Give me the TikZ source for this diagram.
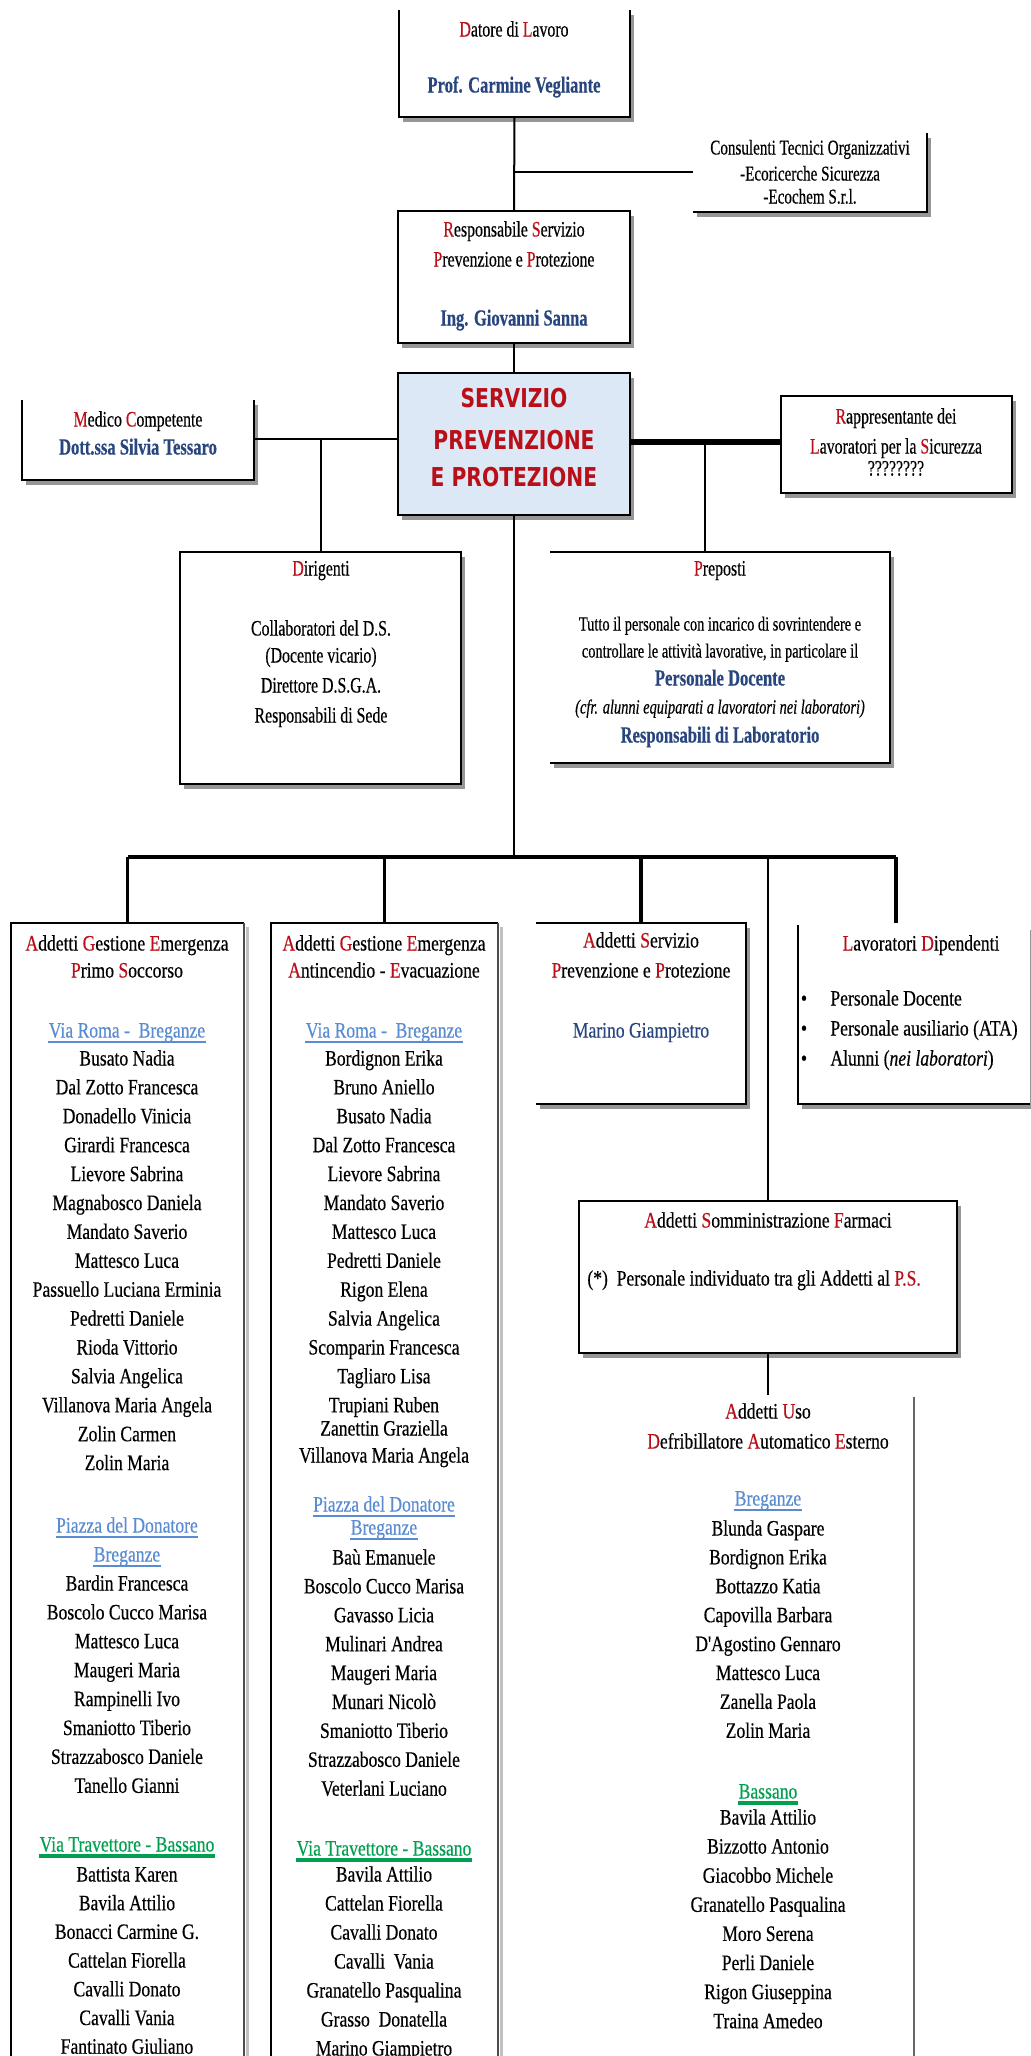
\documentclass[tikz,border=0pt]{standalone}
\usepackage{fontspec}
\setmainfont{Liberation Serif}
\newfontfamily\topf[FakeStretch=0.72,FakeBold=0.4]{Liberation Serif}
\newfontfamily\listf[FakeStretch=0.8,FakeBold=0.4]{Liberation Serif}
\newfontfamily\sppf[FakeStretch=0.78]{DejaVu Sans}
\usetikzlibrary{fit}
\definecolor{rd}{RGB}{185,15,25}
\definecolor{bl}{RGB}{40,70,125}
\definecolor{lb}{RGB}{90,140,210}
\definecolor{gr}{RGB}{0,160,80}
\definecolor{sppfill}{RGB}{221,232,246}
\definecolor{shc}{RGB}{150,150,150}
\newcommand\rl[1]{\textcolor{rd}{#1}}
\newcommand\shadbox[2]{%
  \fill[shc] ([shift={(4,5)}]#1.north west) rectangle ([shift={(4,5)}]#1.south east);
  \fill[#2] (#1.north west) rectangle (#1.south east);}
\begin{document}
\begin{tikzpicture}[x=0.5pt,y=-0.5pt,
  reg/.style={inner sep=0pt, outer sep=0pt},
  bd/.style={line width=1pt, black},
  conn/.style={line width=1pt, black},
  tt/.style={inner sep=0pt, font=\topf\fontsize{11}{13}\selectfont, text height=7.5pt, text depth=2pt},
  nm/.style={inner sep=0pt, font=\listf\fontsize{11}{13}\selectfont, text height=7.5pt, text depth=2pt},
  blu/.style={text=bl, font=\topf\bfseries\fontsize{11.5}{13}\selectfont},
  sppt/.style={inner sep=0pt, text=rd, font=\sppf\bfseries\fontsize{13}{15}\selectfont, text height=9pt, text depth=0pt},
  locb/.style={nm, text=lb},
  locg/.style={nm, text=gr}
]
\useasboundingbox (0,0) rectangle (1030,2056);
\fill[white] (0,0) rectangle (1030,2056);

% ---------- box regions ----------
\node[reg, fit={(399,10) (630,117)}] (datore) {};
\node[reg, fit={(693,133) (927,212)}] (cons) {};
\node[reg, fit={(398,211) (630,343)}] (rspp) {};
\node[reg, fit={(398,373) (630,515)}] (spp) {};
\node[reg, fit={(22,400) (254,480)}] (med) {};
\node[reg, fit={(781,396) (1012,493)}] (rls) {};
\node[reg, fit={(180,552) (461,784)}] (dir) {};
\node[reg, fit={(550,552) (890,763)}] (prep) {};
\node[reg, fit={(11,923) (244,2056)}] (b1) {};
\node[reg, fit={(271,923) (498,2056)}] (b2) {};
\node[reg, fit={(536,923) (746,1104)}] (b3) {};
\node[reg, fit={(798,925) (1030,1104)}] (b4) {};
\node[reg, fit={(579,1201) (957,1353)}] (som) {};
\node[reg, fit={(620,1397) (914,2056)}] (dae) {};

% ---------- shadows and fills ----------
\shadbox{datore}{white}
\shadbox{cons}{white}
\shadbox{rspp}{white}
\shadbox{spp}{sppfill}
\shadbox{med}{white}
\shadbox{rls}{white}
\shadbox{dir}{white}
\shadbox{prep}{white}
\shadbox{b3}{white}
\shadbox{b4}{white}
\shadbox{som}{white}
\fill[shc!60] ([shift={(2,4)}]b1.north east) rectangle ([shift={(5,0)}]b1.south east);
\fill[shc!60] ([shift={(2,4)}]b2.north east) rectangle ([shift={(5,0)}]b2.south east);

% ---------- borders ----------
\draw[bd] (datore.north west) -- (datore.south west) -- (datore.south east) -- (datore.north east);
\draw[bd] (cons.south west) -- (cons.south east) -- (cons.north east);
\draw[bd] (rspp.north west) rectangle (rspp.south east);
\draw[bd] (spp.north west) rectangle (spp.south east);
\draw[bd] (med.north west) -- (med.south west) -- (med.south east) -- (med.north east);
\draw[bd] (rls.north west) rectangle (rls.south east);
\draw[bd] (dir.north west) rectangle (dir.south east);
\draw[bd] (prep.north west) -- (prep.north east) -- (prep.south east) -- (prep.south west);
\draw[bd] (b1.south west) -- (b1.north west) -- (b1.north east);
\draw[line width=1pt, black!70] (b1.north east) -- (b1.south east);
\draw[bd] (b2.south west) -- (b2.north west) -- (b2.north east);
\draw[line width=1pt, black!70] (b2.north east) -- (b2.south east);
\draw[bd] (b3.north west) -- (b3.north east) -- (b3.south east) -- (b3.south west);
\draw[bd] (b4.north west) -- (b4.south west) -- (b4.south east);
\draw[bd] (som.north west) rectangle (som.south east);
\draw[line width=1pt, black!60] (dae.north east) -- (dae.south east);

% ---------- connectors ----------
\coordinate (cj) at (514,172);
\coordinate (mj) at (321,439);
\coordinate (pj) at (705,442);
\coordinate (barc) at (514,857);
\coordinate (sj) at (768,857);
\coordinate (d4) at (896,923);
\coordinate (daetop) at (768,1395);
\draw[conn] (datore.south) -- (rspp.north);
\draw[conn] (cj) -- (cj -| cons.west);
\draw[conn] (rspp.south) -- (spp.north);
\draw[line width=1.3pt] (mj -| med.east) -- (mj -| spp.west);
\draw[conn] (mj) -- (mj |- dir.north);
\draw[line width=2.6pt] (pj -| spp.east) -- (pj -| rls.west);
\draw[conn] (pj) -- (pj |- prep.north);
\draw[conn] (spp.south) -- (barc);
\draw[line width=1.6pt] (barc -| b1.north) -- (barc -| d4);
\draw[line width=1.6pt] (barc -| b1.north) -- (b1.north);
\draw[line width=1.6pt] (barc -| b2.north) -- (b2.north);
\draw[line width=1.6pt] (barc -| b3.north) -- (b3.north);
\draw[line width=1.6pt] (barc -| d4) -- (d4);
\draw[line width=0.8pt] (sj) -- (som.north);
\draw[line width=0.8pt] (som.south) -- (daetop);

% ---------- top texts ----------
\node[tt] (t1) at (514,31) {\rl{D}atore di \rl{L}avoro};
\node[tt, blu] (t2) at (514,87) {Prof. Carmine Vegliante};
\node[tt, font=\topf\fontsize{10.5}{12}\selectfont] (c1) at (810,149) {Consulenti Tecnici Organizzativi};
\node[tt, font=\topf\fontsize{10.5}{12}\selectfont] (c2) at (810,175) {-Ecoricerche Sicurezza};
\node[tt, font=\topf\fontsize{10.5}{12}\selectfont] (c3) at (810,198) {-Ecochem S.r.l.};
\node[tt] (r1) at (514,231) {\rl{R}esponsabile \rl{S}ervizio};
\node[tt] (r2) at (514,261) {\rl{P}revenzione e \rl{P}rotezione};
\node[tt, blu] (r3) at (514,320) {Ing. Giovanni Sanna};
\node[sppt] (s1) at (514,398) {SERVIZIO};
\node[sppt] (s2) at (514,440) {PREVENZIONE};
\node[sppt] (s3) at (514,477) {E PROTEZIONE};
\node[tt] (m1) at (138,421) {\rl{M}edico \rl{C}ompetente};
\node[tt, blu] (m2) at (138,449) {Dott.ssa Silvia Tessaro};
\node[tt] (l1) at (896,418) {\rl{R}appresentante dei};
\node[tt] (l2) at (896,448) {\rl{L}avoratori per la \rl{S}icurezza};
\node[tt] (l3) at (896,470) {????????};
\node[tt] (dr1) at (321,570) {\rl{D}irigenti};
\node[tt] (dr2) at (321,630) {Collaboratori del D.S.};
\node[tt] (dr3) at (321,657) {(Docente vicario)};
\node[tt] (dr4) at (321,687) {Direttore D.S.G.A.};
\node[tt] (dr5) at (321,717) {Responsabili di Sede};
\node[tt] (p1) at (720,570) {\rl{P}reposti};
\node[tt, font=\topf\fontsize{10}{12}\selectfont] (p2) at (720,625) {Tutto il personale con incarico di sovrintendere e};
\node[tt, font=\topf\fontsize{10}{12}\selectfont] (p3) at (720,652) {controllare le attività lavorative, in particolare il};
\node[tt, blu] (p4) at (720,680) {Personale Docente};
\node[tt, font=\topf\itshape\fontsize{10}{12}\selectfont] (p5) at (720,708) {(cfr. alunni equiparati a lavoratori nei laboratori)};
\node[tt, blu] (p6) at (720,737) {Responsabili di Laboratorio};

% ---------- box 1 ----------
\node[nm] (h11) at (127,945) {\rl{A}ddetti \rl{G}estione \rl{E}mergenza};
\node[nm] (h12) at (127,972) {\rl{P}rimo \rl{S}occorso};
\node[locb] (h13) at (127,1032) {Via Roma -\ \ Breganze};
\draw[lb, line width=1pt] (h13.south west) -- (h13.south east);
\foreach \n [count=\i from 0] in {Busato Nadia, Dal Zotto Francesca, Donadello Vinicia, Girardi Francesca, Lievore Sabrina, Magnabosco Daniela, Mandato Saverio, Mattesco Luca, Passuello Luciana Erminia, Pedretti Daniele, Rioda Vittorio, Salvia Angelica, Villanova Maria Angela, Zolin Carmen, Zolin Maria}
  \node[nm] (a\i) at (127,{1060+28.9*\i}) {\n};
\node[locb] (h14) at (127,1527) {Piazza del Donatore};
\draw[lb, line width=1pt] (h14.south west) -- (h14.south east);
\node[locb] (h15) at (127,1556) {Breganze};
\draw[lb, line width=1pt] (h15.south west) -- (h15.south east);
\foreach \n [count=\i from 0] in {Bardin Francesca, Boscolo Cucco Marisa, Mattesco Luca, Maugeri Maria, Rampinelli Ivo, Smaniotto Tiberio, Strazzabosco Daniele, Tanello Gianni}
  \node[nm] (b\i) at (127,{1585+28.9*\i}) {\n};
\node[locg] (h16) at (127,1846) {Via Travettore - Bassano};
\draw[gr, line width=2pt] (h16.south west) -- (h16.south east);
\foreach \n [count=\i from 0] in {Battista Karen, Bavila Attilio, Bonacci Carmine G., Cattelan Fiorella, Cavalli Donato, Cavalli Vania, Fantinato Giuliano}
  \node[nm] (c\i) at (127,{1876+28.7*\i}) {\n};

% ---------- box 2 ----------
\node[nm] (h21) at (384,945) {\rl{A}ddetti \rl{G}estione \rl{E}mergenza};
\node[nm] (h22) at (384,972) {\rl{A}ntincendio - \rl{E}vacuazione};
\node[locb] (h23) at (384,1032) {Via Roma -\ \ Breganze};
\draw[lb, line width=1pt] (h23.south west) -- (h23.south east);
\foreach \n [count=\i from 0] in {Bordignon Erika, Bruno Aniello, Busato Nadia, Dal Zotto Francesca, Lievore Sabrina, Mandato Saverio, Mattesco Luca, Pedretti Daniele, Rigon Elena, Salvia Angelica, Scomparin Francesca, Tagliaro Lisa, Trupiani Ruben}
  \node[nm] (d\i) at (384,{1060+28.9*\i}) {\n};
\node[nm] (d13) at (384,1430) {Zanettin Graziella};
\node[nm] (d14) at (384,1457) {Villanova Maria Angela};
\node[locb] (h24) at (384,1506) {Piazza del Donatore};
\draw[lb, line width=1pt] (h24.south west) -- (h24.south east);
\node[locb] (h25) at (384,1529) {Breganze};
\draw[lb, line width=1pt] (h25.south west) -- (h25.south east);
\foreach \n [count=\i from 0] in {Baù Emanuele, Boscolo Cucco Marisa, Gavasso Licia, Mulinari Andrea, Maugeri Maria, Munari Nicolò, Smaniotto Tiberio, Strazzabosco Daniele, Veterlani Luciano}
  \node[nm] (e\i) at (384,{1559+28.9*\i}) {\n};
\node[locg] (h26) at (384,1850) {Via Travettore - Bassano};
\draw[gr, line width=2pt] (h26.south west) -- (h26.south east);
\foreach \n [count=\i from 0] in {Bavila Attilio, Cattelan Fiorella, Cavalli Donato, Cavalli\ \ Vania, Granatello Pasqualina, Grasso\ \ Donatella, Marino Giampietro}
  \node[nm] (f\i) at (384,{1876+29*\i}) {\n};

% ---------- box 3 ----------
\node[nm] (h31) at (641,942) {\rl{A}ddetti \rl{S}ervizio};
\node[nm] (h32) at (641,972) {\rl{P}revenzione e \rl{P}rotezione};
\node[nm, text=bl] (h33) at (641,1032) {Marino Giampietro};

% ---------- box 4 ----------
\node[nm] (h41) at (921,945) {\rl{L}avoratori \rl{D}ipendenti};
\foreach \n [count=\i from 0] in {Personale Docente, Personale ausiliario (ATA), Alunni (\textit{nei laboratori})} {
  \node[nm] (g\i) at (804,{1000+30*\i}) {•};
  \node[nm, anchor=west] (gt\i) at (830,{1000+30*\i}) {\n};
}

% ---------- somministrazione ----------
\node[nm] (h51) at (768,1222) {\rl{A}ddetti \rl{S}omministrazione \rl{F}armaci};
\node[nm, anchor=west] (h52) at (587,1280) {(*)\ \ Personale individuato tra gli Addetti al \rl{P.S.}};

% ---------- DAE ----------
\node[nm] (h61) at (768,1413) {\rl{A}ddetti \rl{U}so};
\node[nm] (h62) at (768,1443) {\rl{D}efribillatore \rl{A}utomatico \rl{E}sterno};
\node[locb] (h63) at (768,1500) {Breganze};
\draw[lb, line width=1pt] (h63.south west) -- (h63.south east);
\foreach \n [count=\i from 0] in {Blunda Gaspare, Bordignon Erika, Bottazzo Katia, Capovilla Barbara, D'Agostino Gennaro, Mattesco Luca, Zanella Paola, Zolin Maria}
  \node[nm] (k\i) at (768,{1530+28.9*\i}) {\n};
\node[locg] (h64) at (768,1793) {Bassano};
\draw[gr, line width=2pt] (h64.south west) -- (h64.south east);
\foreach \n [count=\i from 0] in {Bavila Attilio, Bizzotto Antonio, Giacobbo Michele, Granatello Pasqualina, Moro Serena, Perli Daniele, Rigon Giuseppina, Traina Amedeo}
  \node[nm] (q\i) at (768,{1819+29.1*\i}) {\n};
\end{tikzpicture}
\end{document}
